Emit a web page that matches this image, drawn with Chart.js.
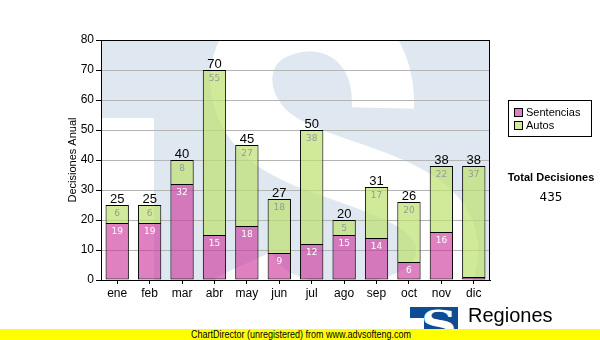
<!DOCTYPE html>
<html>
<head>
<meta charset="utf-8">
<script src="https://cdn.jsdelivr.net/npm/chart.js@4/dist/chart.umd.min.js"></script>
<style>
  body { margin: 0; background: #fff; font-family: "Liberation Sans", Arial, sans-serif; }
  #wrap { position: relative; width: 600px; height: 340px; overflow: hidden; }
  #legend { position: absolute; left: 508px; top: 100px; width: 82px; height: 35px; border: 1px solid #000; background: #fff; font-size: 11px; }
  #legend div { position: absolute; left: 5px; height: 12px; line-height: 12px; }
  #legend span { display: inline-block; width: 7px; height: 7px; border: 1px solid #000; margin-right: 3px; vertical-align: -1px; }
  #total { position: absolute; left: 500px; top: 171px; width: 102px; text-align: center; }
  #total b { display: block; font-size: 11px; }
  #total i { display: block; font-style: normal; font-family: "DejaVu Sans", sans-serif; font-size: 12px; margin-top: 7px; }
  #logo { position: absolute; left: 410px; top: 307px; width: 48px; height: 30px; background: #0e4c93; overflow: hidden; }
  #logo .n { position: absolute; left: 0; top: 11px; width: 14px; height: 30px; background: #fff; }
  #logo .s { position: absolute; left: 15px; top: -6px; color: #fff; font: bold 38px "DejaVu Serif", serif; transform: scaleX(1.3); }
  #reg { position: absolute; left: 468px; top: 304px; font-size: 20px; }
  #footer { position: absolute; left: 0; top: 329px; width: 600px; height: 11px; background: #ffff00; font-size: 10px; line-height: 11px; }
  #footer span { position: absolute; left: 191px; transform: scaleX(0.9); transform-origin: 0 0; white-space: nowrap; }
</style>
</head>
<body>
<div id="wrap">
  <canvas id="chart1" width="600" height="340"></canvas>
  <div id="legend">
    <div style="top:5px"><span style="background:#df80c0"></span>Sentencias</div>
    <div style="top:18px"><span style="background:#d2ea9a"></span>Autos</div>
  </div>
  <div id="total"><b>Total Decisiones</b><i id="totalValue"></i></div>
  <div id="logo"><div class="n"></div><div class="s">S</div></div>
  <div id="reg">Regiones</div>
  <div id="footer"><span>ChartDirector (unregistered) from www.advsofteng.com</span></div>
</div>
<script>
const meses = ['ene', 'feb', 'mar', 'abr', 'may', 'jun', 'jul', 'ago', 'sep', 'oct', 'nov', 'dic'];
const sentencias = [19, 19, 32, 15, 18, 9, 12, 15, 14, 6, 16, 1];
const autos = [6, 6, 8, 55, 27, 18, 38, 5, 17, 20, 22, 37];
const ejeY = [0, 10, 20, 30, 40, 50, 60, 70, 80];

const totales = meses.map((m, i) => sentencias[i] + autos[i]);
document.getElementById('totalValue').textContent = totales.reduce((a, b) => a + b, 0);

// marca de agua "TS" detras del area de trazado
const fondo = {
    id: 'fondo',
    beforeDraw(chart) {
        const {ctx, chartArea: a} = chart;
        const x = v => a.left + v, y = v => a.top + v;
        ctx.save();
        ctx.beginPath();
        ctx.rect(a.left, a.top, a.width, a.height);
        ctx.clip();
        ctx.fillStyle = '#dfe8f1';
        ctx.fillRect(a.left, a.top, a.width, a.height);
        ctx.fillStyle = '#fff';
        ctx.fillRect(a.left, y(78), 53, a.height);
        ctx.strokeStyle = '#fff';
        ctx.lineWidth = 62;
        ctx.lineCap = 'butt';
        ctx.beginPath();
        ctx.moveTo(x(282), y(68));
        ctx.bezierCurveTo(x(284), y(-10), x(222), y(-30), x(182), y(-15));
        ctx.bezierCurveTo(x(132), y(0), x(127), y(60), x(167), y(95));
        ctx.bezierCurveTo(x(212), y(135), x(339), y(140), x(346), y(205));
        ctx.bezierCurveTo(x(352), y(275), x(230), y(290), x(175), y(260));
        ctx.bezierCurveTo(x(158), y(250), x(148), y(238), x(142), y(225));
        ctx.stroke();
        ctx.restore();
    }
};

// marco negro del area de trazado
const marco = {
    id: 'marco',
    beforeDatasetsDraw(chart) {
        const {ctx, chartArea: a} = chart;
        ctx.save();
        ctx.strokeStyle = '#000';
        ctx.lineWidth = 1;
        ctx.strokeRect(a.left + 0.5, a.top + 0.5, a.width - 1, a.height);
        ctx.restore();
    }
};

// valores dentro de cada tramo y totales encima de la barra
const etiquetas = {
    id: 'etiquetas',
    afterDatasetsDraw(chart) {
        const ctx = chart.ctx;
        ctx.save();
        ctx.textAlign = 'center';
        ctx.textBaseline = 'middle';
        ctx.font = '9px "DejaVu Sans"';
        chart.data.datasets.forEach((ds, d) => {
            const meta = chart.getDatasetMeta(d);
            ctx.fillStyle = d === 0 ? '#ffffff' : '#999999';
            meta.data.forEach((bar, i) => {
                if (bar.base - bar.y < 12) return;
                ctx.fillText(ds.data[i], bar.x, bar.y + 9);
            });
        });
        const top = chart.getDatasetMeta(1).data;
        ctx.font = '13px "Liberation Sans"';
        ctx.fillStyle = '#000';
        ctx.textBaseline = 'alphabetic';
        top.forEach((bar, i) => ctx.fillText(totales[i], bar.x, bar.y - 2));
        ctx.restore();
    }
};

new Chart(document.getElementById('chart1'), {
    type: 'bar',
    data: {
        labels: meses,
        datasets: [
            {
                label: 'Sentencias',
                data: sentencias,
                backgroundColor: 'rgba(204, 51, 153, 0.62)',
                borderColor: '#000',
                borderWidth: 1,
                borderSkipped: false
            },
            {
                label: 'Autos',
                data: autos,
                backgroundColor: 'rgba(190, 225, 110, 0.7)',
                borderColor: '#000',
                borderWidth: 1,
                borderSkipped: 'bottom'
            }
        ]
    },
    options: {
        responsive: false,
        animation: false,
        barPercentage: 0.72,
        categoryPercentage: 1,
        layout: {
            padding: {left: 0, top: 40, right: 110, bottom: 40}
        },
        plugins: {
            legend: {display: false},
            tooltip: {enabled: false}
        },
        scales: {
            x: {
                stacked: true,
                afterFit: s => { s.height = 20; },
                grid: {
                    offset: false,
                    drawOnChartArea: false,
                    tickLength: 4,
                    tickColor: '#000'
                },
                border: {color: '#000'},
                ticks: {
                    color: '#000',
                    padding: 2,
                    font: {family: 'Liberation Sans', size: 12}
                }
            },
            y: {
                stacked: true,
                min: 0,
                max: 80,
                afterFit: s => { s.width = 101; },
                afterBuildTicks: s => { s.ticks = ejeY.map(v => ({value: v})); },
                grid: {
                    color: '#b4b4b4',
                    tickLength: 5,
                    tickColor: '#000'
                },
                border: {color: '#000'},
                ticks: {
                    color: '#000',
                    padding: 2,
                    font: {family: 'Liberation Sans', size: 12}
                },
                title: {
                    display: true,
                    text: 'Decisiones Anual',
                    color: '#000',
                    padding: {top: 66, bottom: 0},
                    font: {family: 'Liberation Sans', size: 11}
                }
            }
        }
    },
    plugins: [fondo, marco, etiquetas]
});
</script>
</body>
</html>
